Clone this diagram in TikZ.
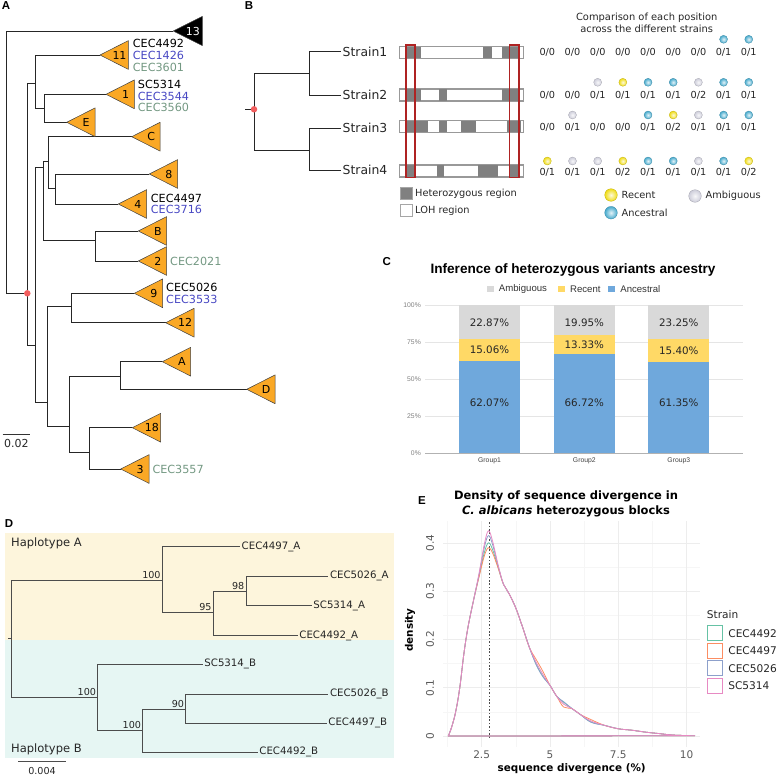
\documentclass[tikz,border=0pt]{standalone}
\usepackage{fontspec}
\setmainfont{DejaVu Sans}
\newfontfamily\arialfont{Liberation Sans}
\usetikzlibrary{positioning,calc}
\definecolor{cladeorange}{RGB}{250,168,37}
\definecolor{isoblue}{RGB}{72,72,195}
\definecolor{isogreen}{RGB}{115,152,130}
\definecolor{rootred}{RGB}{242,94,94}
\definecolor{boxred}{RGB}{175,35,35}
\definecolor{hetgray}{RGB}{128,128,128}
\definecolor{ballblue}{RGB}{70,170,205}
\definecolor{ballyellow}{RGB}{240,220,20}
\definecolor{ballgray}{RGB}{205,205,218}
\definecolor{ambgray}{RGB}{217,217,217}
\definecolor{recyellow}{RGB}{255,217,102}
\definecolor{ancblue}{RGB}{111,168,220}
\definecolor{hapyellow}{RGB}{253,245,220}
\definecolor{hapblue}{RGB}{230,246,243}
\definecolor{setteal}{HTML}{66C2A5}
\definecolor{setorange}{HTML}{FC8D62}
\definecolor{setpurple}{HTML}{8DA0CB}
\definecolor{setpink}{HTML}{E78AC3}

\begin{document}
\begin{tikzpicture}[x=1pt,y=-1pt,
  panel/.style={font=\arialfont\bfseries\fontsize{11.5}{13}\selectfont,inner sep=0pt},
  branch/.style={line width=0.9pt,draw=black!85},
  clade/.style={draw=black!75,line width=0.5pt,fill=cladeorange,line join=round},
  cladelab/.style={inner sep=0pt,font=\fontsize{11}{12}\selectfont},
  tiplab/.style={anchor=west,inner sep=0pt,font=\fontsize{11.2}{12}\selectfont},
  rootdot/.style={circle,fill=rootred,inner sep=0pt,minimum size=6.5pt},
  strainlab/.style={anchor=west,inner sep=1.5pt,font=\fontsize{12.4}{14}\selectfont,text=black!85},
  chrom/.style={draw=gray!80,line width=0.6pt},
  redbox/.style={draw=boxred,line width=1.2pt},
  gt/.style={inner sep=0pt,font=\fontsize{9.7}{11}\selectfont,text=black!85},
  ball/.style={circle,inner sep=0pt,minimum size=8pt,line width=0.3pt},
  sphere/.style={ball,inner color=#1!15!white,outer color=#1,draw=#1!80!black},
  blab/.style={anchor=west,inner sep=0pt,font=\fontsize{9.8}{11}\selectfont,text=black!85},
  legsq/.style={draw=gray!70,line width=0.6pt,inner sep=0pt,minimum size=12pt},
  ctitle/.style={inner sep=0pt,font=\arialfont\bfseries\fontsize{13.6}{15}\selectfont},
  cgrid/.style={draw=gray!20,line width=0.6pt},
  ctick/.style={anchor=east,inner sep=0pt,font=\arialfont\fontsize{6.8}{8}\selectfont,text=gray},
  cval/.style={inner sep=0pt,font=\fontsize{10.3}{12}\selectfont,text=black!85},
  cgroup/.style={inner sep=0pt,font=\arialfont\fontsize{6.8}{8}\selectfont,text=black!75},
  clegtext/.style={anchor=west,inner sep=0pt,font=\arialfont\fontsize{9.6}{11}\selectfont,text=black!80},
  csq/.style={inner sep=0pt,minimum size=6.5pt},
  dbranch/.style={line width=0.9pt,draw=black!70},
  leaflab/.style={anchor=west,inner sep=1.5pt,font=\fontsize{10.2}{12}\selectfont,text=black!85},
  boot/.style={anchor=south east,inner sep=1.5pt,font=\fontsize{9.6}{11}\selectfont,text=black!85},
  haplab/.style={anchor=west,inner sep=0pt,font=\fontsize{11.5}{13}\selectfont,text=black!85},
  etitle/.style={inner sep=0pt,align=center,font=\bfseries\fontsize{11.5}{15}\selectfont},
  egridmajor/.style={draw=gray!14,line width=0.6pt},
  egridminor/.style={draw=gray!7,line width=0.4pt},
  etick/.style={inner sep=0pt,font=\fontsize{10.5}{12}\selectfont,text=black!65},
  eaxis/.style={inner sep=0pt,font=\bfseries\fontsize{10.4}{12}\selectfont},
  eleg/.style={anchor=west,inner sep=0pt,font=\fontsize{10.6}{12}\selectfont,text=black!85},
  ekey/.style={fill=white,line width=0.9pt,inner sep=0pt,minimum size=15pt},
]
\useasboundingbox (0,0) rectangle (778,776);

% ---------------- Panel A ----------------
\node[panel] (labA) at (6,6) {A};

% internal nodes
\coordinate (rA) at (6.7,162);
\coordinate (n1) at (27.3,293.3);
\coordinate (n2) at (35.7,83.3);
\coordinate (n3) at (44,108.3);
\coordinate (n5) at (35.7,345);
\coordinate (n6) at (43.3,167.7);
\coordinate (n7) at (48.3,161);
\coordinate (n8) at (55,188.3);
\coordinate (n9) at (95.7,240);
\coordinate (n11) at (47.7,402.7);
\coordinate (n12) at (71.7,306);
\coordinate (n13) at (69.3,426);
\coordinate (n14) at (120.7,376);
\coordinate (n15) at (89.3,452.7);

% collapsed clades (apex)
\foreach \name/\x/\y in {t13/173.3/31, t11/100/55, t1/106/94.3, tE/66.7/122.3,
    tC/131.7/136.7, t8/149.3/174, t4/118.3/204, tB/138.3/231, t2/138.3/261,
    t9/134.3/293.3, t12/165.7/322.7, tA/162.3/361.7, tD/246.7/389.3,
    t18/132.3/427.7, t3/120.7/469}
  \coordinate (\name) at (\x,\y);

% branches
\draw[branch] (rA) |- (t13);
\draw[branch] (rA) |- (n1);
\foreach \p/\c in {n1/n2, n1/n5, n2/t11, n2/n3, n3/t1, n3/tE, n5/n6, n5/n11,
    n6/n7, n6/n9, n7/tC, n7/n8, n8/t8, n8/t4, n9/tB, n9/t2, n11/n12, n11/n13,
    n12/t9, n12/t12, n13/n14, n13/n15, n14/tA, n14/tD, n15/t18, n15/t3}
  \draw[branch] (\p) |- (\c);

\draw[clade,fill=black] (t13) -- ++(29,-14.6) -- ++(0,29.2) -- cycle;
\node[cladelab,text=white] (t13-lab) at ($(t13)+(19.5,0)$) {13};
\foreach \name/\txt in {t11/11, t1/1, tE/E, tC/C, t8/8, t4/4, tB/B, t2/2,
    t9/9, t12/12, tA/A, tD/D, t18/18, t3/3} {
  \draw[clade] (\name) -- ++(28.4,-14.4) -- ++(0,28.8) -- cycle;
  \node[cladelab] (\name-lab) at ($(\name)+(19.5,0)$) {\txt};
}

\node[rootdot] (dotA) at (n1) {};

% isolate labels
\foreach \x/\y/\col/\txt in {132.7/43/black/CEC4492, 132.7/55/isoblue/CEC1426,
    132.7/67/isogreen/CEC3601, 137.7/84/black/SC5314, 137.7/96/isoblue/CEC3544,
    137.7/107.3/isogreen/CEC3560, 150.7/198.3/black/CEC4497, 150.7/209.3/isoblue/CEC3716,
    170/261/isogreen/CEC2021, 166/287.3/black/CEC5026, 166/299/isoblue/CEC3533,
    152.3/469/isogreen/CEC3557}
  \node[tiplab,text=\col] (iso\txt) at (\x,\y) {\txt};

% scale bar
\coordinate (sbA1) at (2.7,434.3);
\coordinate (sbA2) at (30,434.3);
\draw[line width=0.7pt,black!80] (sbA1) -- (sbA2);
\node[cladelab,text=black!85] (sbAlab) at (16.4,443.3) {0.02};

% ---------------- Panel B ----------------
\node[panel] (labB) at (249,6) {B};

\coordinate (bstub) at (245,109.3);
\coordinate (broot) at (254,109.3);
\coordinate (bn1) at (309,73.3);
\coordinate (bn2) at (309,150);
\node[strainlab] (s1) at (341,51.7) {Strain1};
\node[strainlab] (s2) at (341,95) {Strain2};
\node[strainlab] (s3) at (341,128.3) {Strain3};
\node[strainlab] (s4) at (341,170) {Strain4};

\draw[branch] (bstub) -- (broot);
\draw[branch] (broot) |- (bn1);
\draw[branch] (broot) |- (bn2);
\draw[branch] (bn1) |- (s1.west);
\draw[branch] (bn1) |- (s2.west);
\draw[branch] (bn2) |- (s3.west);
\draw[branch] (bn2) |- (s4.west);
\node[rootdot] (dotB) at (broot) {};

% chromosomes
\foreach \r/\y in {1/52.5, 2/94.8, 3/126.5, 4/170.8}
  \node[chrom,fill=white,minimum width=124pt,minimum height=11.6pt,inner sep=0pt] (chr\r) at (461.3,\y) {};
\foreach \y/\a/\b in {52.5/406/420.7, 52.5/483.3/491.7, 52.5/501.7/518.3,
    94.8/406/420.7, 94.8/439/447.3, 94.8/501.7/518.3,
    126.5/406/428.3, 126.5/439/447.3, 126.5/461/475.7, 126.5/506.7/521,
    170.8/406/415, 170.8/436.7/444.3, 170.8/478.3/498.3, 170.8/509.3/519}
  \fill[hetgray] (\a,{\y-5.8}) rectangle (\b,{\y+5.8});
\foreach \r in {1,...,4}
  \draw[chrom] (chr\r.south west) rectangle (chr\r.north east);

\draw[redbox] (406,45) rectangle (415,177.7);
\draw[redbox] (509.3,45) rectangle (519,177.7);

% legend of regions
\node[legsq,fill=hetgray] (kHet) at (406.2,193.3) {};
\node[blab,right=2.5pt of kHet] (tHet) {Heterozygous region};
\node[legsq,fill=white] (kLoh) at (406.2,210.3) {};
\node[blab,right=2.5pt of kLoh] (tLoh) {LOH region};

% genotypes
\node[blab,anchor=center,align=center,font=\fontsize{9.9}{12.3}\selectfont] (cmpTitle) at (646.7,23) {Comparison of each position\\across the different strains};
\foreach \r/\y/\ga/\gb/\gc/\gd/\ge/\gf/\gg/\gh/\gi in {1/52.3/0/0/0/0/0/0/0/1/1,
    2/95/0/0/1/1/1/1/2/1/1, 3/127/0/1/0/0/1/2/1/1/1, 4/172.7/1/1/1/2/1/1/1/1/2}
  \foreach \g [count=\c] in {\ga,\gb,\gc,\gd,\ge,\gf,\gg,\gh,\gi}
    \node[gt] (gt\r-\c) at ({547.3+25.18*(\c-1)},\y) {0/\g};

\foreach \c/\y/\col [count=\k] in {8/39.3/ballblue, 9/39.3/ballblue,
    3/82.3/ballgray, 4/82.3/ballyellow, 5/82.3/ballblue, 6/82.3/ballblue,
    7/82.3/ballgray, 8/82.3/ballblue, 9/82.3/ballblue,
    2/115/ballgray, 5/115/ballblue, 6/115/ballyellow, 7/115/ballgray,
    8/115/ballblue, 9/115/ballblue,
    1/161/ballyellow, 2/161/ballgray, 3/161/ballgray, 4/161/ballyellow,
    5/161/ballblue, 6/161/ballblue, 7/161/ballgray, 8/161/ballblue, 9/161/ballyellow}
  \node[sphere=\col] (ball\k) at ({547.3+25.18*(\c-1)},\y) {};

\node[sphere=ballyellow,minimum size=12.6pt] (kRecent) at (611,195) {};
\node[blab,right=4pt of kRecent] (tRecent) {Recent};
\node[sphere=ballgray,minimum size=12.6pt] (kAmbig) at (695,196) {};
\node[blab,right=4pt of kAmbig] (tAmbig) {Ambiguous};
\node[sphere=ballblue,minimum size=12.6pt] (kAnc) at (611,212.7) {};
\node[blab,right=4pt of kAnc] (tAnc) {Ancestral};

% ---------------- Panel C ----------------
\node[panel] (labC) at (386.7,261.7) {C};
\node[ctitle] (cTitle) at (573,270) {Inference of heterozygous variants ancestry};

\node[csq,fill=ambgray] (kcAmb) at (490.3,289) {};
\node[clegtext,right=5pt of kcAmb] (tcAmb) {Ambiguous};
\node[csq,fill=recyellow] (kcRec) at (561.5,289) {};
\node[clegtext,right=5pt of kcRec] (tcRec) {Recent};
\node[csq,fill=ancblue] (kcAnc) at (611.7,289) {};
\node[clegtext,right=5pt of kcAnc] (tcAnc) {Ancestral};

\foreach \p/\y in {25/416, 50/379, 75/342, 100/305} {
  \draw[cgrid] (425,\y) -- (743.3,\y);
  \node[ctick] (ct\p) at (421,\y) {\p\%};
}
\node[ctick] (ct0) at (421,453) {0\%};

\foreach \n/\xc/\anc/\rec [count=\i] in {Group1/489.5/62.07/15.06, Group2/584.3/66.72/13.33, Group3/678.8/61.35/15.40} {
  \pgfmathsetmacro\ya{453-1.48*\anc}
  \pgfmathsetmacro\yr{\ya-1.48*\rec}
  \fill[ancblue] ({\xc-30.5},453) rectangle ({\xc+30.5},\ya);
  \fill[recyellow] ({\xc-30.5},\ya) rectangle ({\xc+30.5},\yr);
  \fill[ambgray] ({\xc-30.5},\yr) rectangle ({\xc+30.5},305);
  \node[cval] (vAnc\i) at (\xc,402.3) {\anc\%};
  \node[cval] (vRec\i) at (\xc,{(\ya+\yr)/2}) {\rec\%};
  \node[cgroup] (grp\i) at (\xc,460.7) {\n};
}
\node[cval] (vAmb1) at (489.5,322.3) {22.87\%};
\node[cval] (vAmb2) at (584.3,322.3) {19.95\%};
\node[cval] (vAmb3) at (678.8,322.3) {23.25\%};
\draw[draw=gray!60,line width=0.8pt] (425,453) -- (743.3,453);

% ---------------- Panel D ----------------
\node[panel] (labD) at (9,524) {D};
\fill[hapyellow] (5,533.3) rectangle (394,640);
\fill[hapblue] (5,640) rectangle (394,758.3);
\node[haplab] (hapA) at (11,543.3) {Haplotype A};
\node[haplab] (hapB) at (11,749.3) {Haplotype B};

\coordinate (dstub) at (8,638.5);
\coordinate (droot) at (11.7,638.5);
\coordinate (dA) at (162.3,580);
\coordinate (dA2) at (213.3,612.7);
\coordinate (dA3) at (246,591);
\coordinate (dB) at (97.7,697.3);
\coordinate (dB2) at (142.7,730.7);
\coordinate (dB3) at (185.7,709.3);

\node[leaflab] (A4497) at (240,546.7) {CEC4497\_A};
\node[leaflab] (A5026) at (328.3,576) {CEC5026\_A};
\node[leaflab] (A5314) at (311.7,605.7) {SC5314\_A};
\node[leaflab] (A4492) at (297.7,635.7) {CEC4492\_A};
\node[leaflab] (B5314) at (202.7,664.3) {SC5314\_B};
\node[leaflab] (B5026) at (328.3,694) {CEC5026\_B};
\node[leaflab] (B4497) at (326.7,723.3) {CEC4497\_B};
\node[leaflab] (B4492) at (257.7,752.3) {CEC4492\_B};

\draw[dbranch] (dstub) -- (droot);
\draw[dbranch] (droot) |- (dA);
\draw[dbranch] (droot) |- (dB);
\draw[dbranch] (dA) |- (A4497.west);
\draw[dbranch] (dA) |- (dA2);
\draw[dbranch] (dA2) |- (dA3);
\draw[dbranch] (dA2) |- (A4492.west);
\draw[dbranch] (dA3) |- (A5026.west);
\draw[dbranch] (dA3) |- (A5314.west);
\draw[dbranch] (dB) |- (B5314.west);
\draw[dbranch] (dB) |- (dB2);
\draw[dbranch] (dB2) |- (dB3);
\draw[dbranch] (dB2) |- (B4492.west);
\draw[dbranch] (dB3) |- (B5026.west);
\draw[dbranch] (dB3) |- (B4497.west);

\node[boot] (bsA) at (dA) {100};
\node[boot] (bsA2) at (dA2) {95};
\node[boot] (bsA3) at (dA3) {98};
\node[boot] (bsB) at (dB) {100};
\node[boot] (bsB2) at (dB2) {100};
\node[boot] (bsB3) at (dB3) {90};

\coordinate (sbD1) at (18.3,761.7);
\coordinate (sbD2) at (65.7,761.7);
\draw[dbranch,line width=0.7pt] (sbD1) -- (sbD2);
\node[boot,anchor=center] (sbDlab) at (42,770.5) {0.004};

% ---------------- Panel E ----------------
\node[panel] (labE) at (422,500.7) {E};
\node[etitle] (eTitle) at (566,504.2) {Density of sequence divergence in\\\textit{C. albicans} heterozygous blocks};

\begin{scope}[shift={(413.3pt,-736pt)},x=27.33pt,y=483pt]
  % grid
  \foreach \gy in {0.05,0.15,0.25,0.35}
    \draw[egridminor] (1.1,\gy) -- (10.5,\gy);
  \foreach \gx in {1.25,3.75,6.25,8.75}
    \draw[egridminor] (\gx,-0.022) -- (\gx,0.445);
  \foreach \gy in {0,0.1,0.2,0.3,0.4}
    \draw[egridmajor] (1.1,\gy) -- (10.5,\gy);
  \foreach \gx in {2.5,5,7.5,10}
    \draw[egridmajor] (\gx,-0.022) -- (\gx,0.445);
  % ticks
  \foreach \gx [count=\i] in {2.5,5,7.5,10}
    \node[etick] (xt\i) at (\gx,-0.039) {\gx};
  \foreach \gy [count=\i] in {0,0.1,0.2,0.3,0.4}
    \node[etick,rotate=90] (yt\i) at (0.61,\gy) {\gy};
  % mode
  \draw[black!70,line width=0.5pt,dash pattern=on 1.6pt off 1.8pt] (2.78,-0.004) -- (2.78,0.443);
  % densities (peak offset \pk, tail offset \tl)
  \foreach \col/\pk/\tl in {setteal/0/-0.004, setorange/-0.01/0.006, setpurple/0.015/-0.005, setpink/0.025/0}
    \draw[\col,line width=0.8pt,line join=round] plot[smooth,tension=0.6] coordinates {
      (1.28,0) (1.4,0.018) (1.55,0.05) (1.7,0.1) (1.85,0.17) (2.0,0.225)
      (2.2,0.28) ({2.4},{0.33+0.2*\pk}) ({2.6},{0.38+0.7*\pk}) ({2.75},{0.40+\pk})
      ({2.9},{0.386+0.7*\pk}) ({3.1},{0.35+0.2*\pk}) (3.3,0.314) (3.5,0.295)
      (3.75,0.265) (4.0,0.225) (4.25,0.183) ({4.5},{0.152+\tl}) ({4.75},{0.127+\tl})
      (5.0,0.105) (5.25,0.082) ({5.5},{0.066-\tl}) (5.8,0.057) (6.1,0.045)
      ({6.5},{0.031+0.5*\tl}) (7.0,0.022) (7.5,0.015) (8.0,0.012) (8.5,0.008)
      (9.0,0.005) (9.5,0.002) (10.3,0.0005)} -- cycle;
\end{scope}

\node[eaxis,rotate=90] (ylab) at (410,630) {density};
\node[eaxis] (xlab) at (571.7,768.3) {sequence divergence (\%)};

\node[eleg] (strainLeg) at (706.7,614.3) {Strain};
\foreach \col/\name/\y in {setteal/CEC4492/633.3, setorange/CEC4497/650.9,
    setpurple/CEC5026/668.4, setpink/SC5314/685.9} {
  \node[ekey,draw=\col] (key\name) at (714.7,\y) {};
  \node[eleg,right=5.5pt of key\name] (leg\name) {\name};
}
\end{tikzpicture}
\end{document}
